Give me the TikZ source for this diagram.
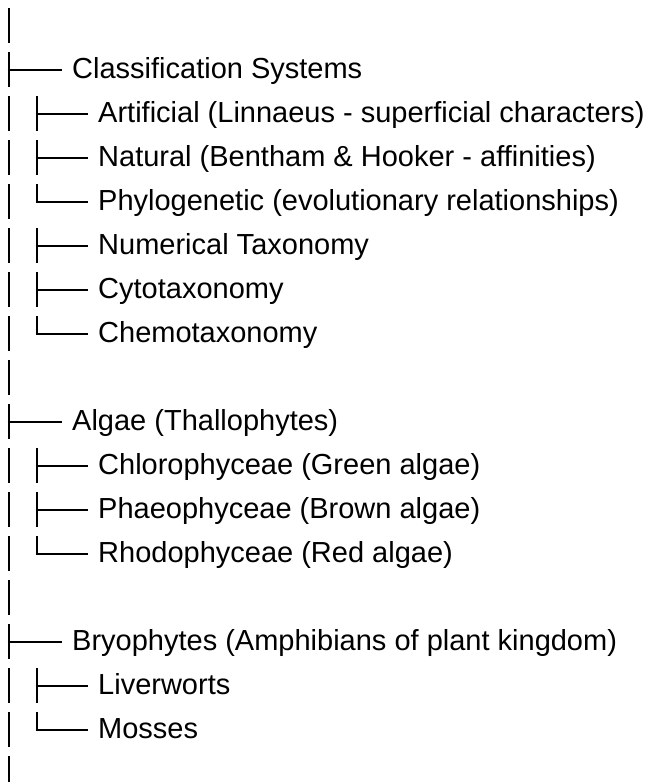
\documentclass[tikz,border=0pt]{standalone}
\usepackage{fontspec}
\setmainfont{Liberation Sans}
\tikzset{
  entry/.style={anchor=base west, inner sep=0pt, text height=22pt, text depth=5pt,
    font=\fontsize{29}{35}\selectfont},
  stem/.style={line width=2.9pt, dash pattern=on 35pt off 9pt},
  branch/.style={line width=2.3pt, shorten <=-1.4pt},
}
\begin{document}
\begin{tikzpicture}[x=1pt,y=1pt]
\useasboundingbox (0,0) rectangle (652,-782);
\coordinate (trunk) at (9,0);
\coordinate (sub) at (37,0);
% classification
\node[entry] (cls) at (72,-78.5) {Classification Systems};
\node[entry] (art) at (98,-122.5) {Artificial (Linnaeus - superficial characters)};
\node[entry] (nat) at (98,-166.5) {Natural (Bentham \& Hooker - affinities)};
\node[entry] (phy) at (98,-210.5) {Phylogenetic (evolutionary relationships)};
\node[entry] (num) at (98,-254.5) {Numerical Taxonomy};
\node[entry] (cyt) at (98,-298.5) {Cytotaxonomy};
\node[entry] (che) at (98,-342.5) {Chemotaxonomy};
% algae
\node[entry] (alg) at (72,-430.5) {Algae (Thallophytes)};
\node[entry] (chl) at (98,-474.5) {Chlorophyceae (Green algae)};
\node[entry] (pha) at (98,-518.5) {Phaeophyceae (Brown algae)};
\node[entry] (rho) at (98,-562.5) {Rhodophyceae (Red algae)};
% bryophytes
\node[entry] (bry) at (72,-650.5) {Bryophytes (Amphibians of plant kingdom)};
\node[entry] (liv) at (98,-694.5) {Liverworts};
\node[entry] (mos) at (98,-738.5) {Mosses};
% stems
\draw[stem] ([yshift=-8pt]trunk) -- ([yshift=-782pt]trunk);
\draw[stem] ([yshift=18pt]sub |- art.west) -- (sub |- phy.west);
\draw[stem] ([yshift=18pt]sub |- num.west) -- (sub |- che.west);
\draw[stem] ([yshift=18pt]sub |- chl.west) -- (sub |- rho.west);
\draw[stem] ([yshift=18pt]sub |- liv.west) -- (sub |- mos.west);
% branches
\draw[branch] (trunk |- cls.west) -- ([xshift=-10pt]cls.west);
\draw[branch] (trunk |- alg.west) -- ([xshift=-10pt]alg.west);
\draw[branch] (trunk |- bry.west) -- ([xshift=-10pt]bry.west);
\draw[branch] (sub |- art.west) -- ([xshift=-10pt]art.west);
\draw[branch] (sub |- nat.west) -- ([xshift=-10pt]nat.west);
\draw[branch] (sub |- phy.west) -- ([xshift=-10pt]phy.west);
\draw[branch] (sub |- num.west) -- ([xshift=-10pt]num.west);
\draw[branch] (sub |- cyt.west) -- ([xshift=-10pt]cyt.west);
\draw[branch] (sub |- che.west) -- ([xshift=-10pt]che.west);
\draw[branch] (sub |- chl.west) -- ([xshift=-10pt]chl.west);
\draw[branch] (sub |- pha.west) -- ([xshift=-10pt]pha.west);
\draw[branch] (sub |- rho.west) -- ([xshift=-10pt]rho.west);
\draw[branch] (sub |- liv.west) -- ([xshift=-10pt]liv.west);
\draw[branch] (sub |- mos.west) -- ([xshift=-10pt]mos.west);
\end{tikzpicture}
\end{document}
